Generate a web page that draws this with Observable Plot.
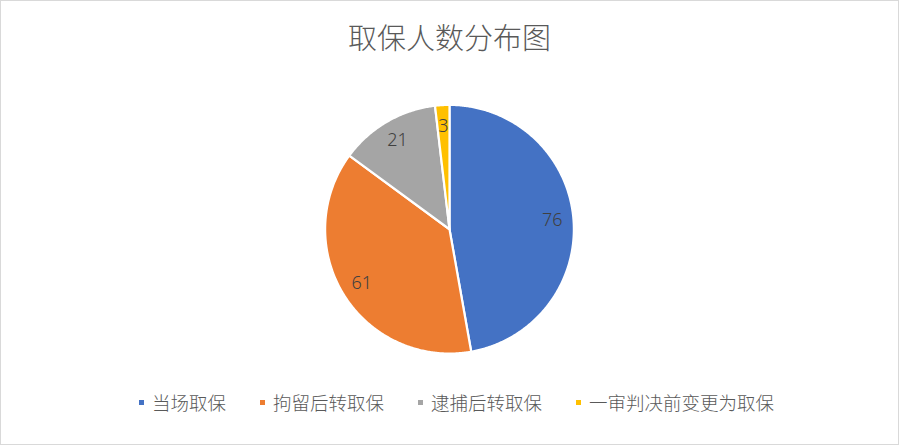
<!DOCTYPE html>
<html>
<head>
<meta charset="utf-8">
<script src="https://cdn.jsdelivr.net/npm/d3@7"></script>
<script src="https://cdn.jsdelivr.net/npm/@observablehq/plot@0.6"></script>
<style>
  html, body { margin: 0; padding: 0; background: #fff; }
  #wrap { position: relative; width: 899px; height: 445px; box-sizing: border-box; border: 1px solid #d9d9d9; overflow: hidden; font-family: "Noto Sans CJK SC", "Noto Sans", sans-serif; font-weight: 300; }
  #chart { position: absolute; left: -1px; top: -1px; }
  #title { position: absolute; left: 0; right: 0; top: 14px; text-align: center; font-size: 29px; line-height: 42px; color: #595959; }
  #legend { position: absolute; left: 0; right: 0; top: 388px; display: flex; justify-content: center; padding-left: 14px; font-size: 18.5px; line-height: 26px; color: #595959; }
  .item { display: flex; align-items: center; margin: 0 17px; }
  .sw { width: 5px; height: 5px; margin-right: 8px; }
</style>
</head>
<body>
<div id="wrap">
  <div id="chart"></div>
  <div id="title">取保人数分布图</div>
  <div id="legend"></div>
</div>
<script>
const categories = ["当场取保", "拘留后转取保", "逮捕后转取保", "一审判决前变更为取保"];
const counts = [76, 61, 21, 3];
const colors = ["#4472C4", "#ED7D31", "#A5A5A5", "#FFC000"];

const R = 124.5;
const labelR = 0.83;
const arcs = d3.pie().sort(null)(counts);

const slicePts = [];
const labelPts = [];
arcs.forEach((a, i) => {
  const name = categories[i];
  slicePts.push({name, x: 0, y: 0});
  const n = Math.max(2, Math.ceil((a.endAngle - a.startAngle) / (Math.PI / 360)));
  for (let k = 0; k <= n; k++) {
    const t = a.startAngle + (a.endAngle - a.startAngle) * k / n;
    slicePts.push({name, x: R * Math.sin(t), y: R * Math.cos(t)});
  }
  const m = (a.startAngle + a.endAngle) / 2;
  labelPts.push({name, value: counts[i], x: labelR * R * Math.sin(m), y: labelR * R * Math.cos(m)});
});

const plot = Plot.plot({
  width: 899,
  height: 445,
  margin: 0,
  x: {domain: [-449.5, 449.5], axis: null},
  y: {domain: [-216, 229], axis: null},
  color: {domain: categories, range: colors},
  style: {background: "transparent", overflow: "visible"},
  marks: [
    Plot.line(slicePts, {x: "x", y: "y", z: "name", fill: "name", stroke: "white", strokeWidth: 2.2, strokeLinejoin: "round", curve: "linear-closed"}),
    Plot.text(labelPts, {x: "x", y: "y", text: d => String(d.value), fill: "#404040", fontSize: 18, fontWeight: 300, fontFamily: "'Noto Sans', 'Noto Sans CJK SC', sans-serif"})
  ]
});
document.getElementById("chart").appendChild(plot);

const legend = document.getElementById("legend");
categories.forEach((c, i) => {
  const item = document.createElement("div");
  item.className = "item";
  const sw = document.createElement("span");
  sw.className = "sw";
  sw.style.background = colors[i];
  const tx = document.createElement("span");
  tx.textContent = c;
  item.appendChild(sw);
  item.appendChild(tx);
  legend.appendChild(item);
});
</script>
</body>
</html>
